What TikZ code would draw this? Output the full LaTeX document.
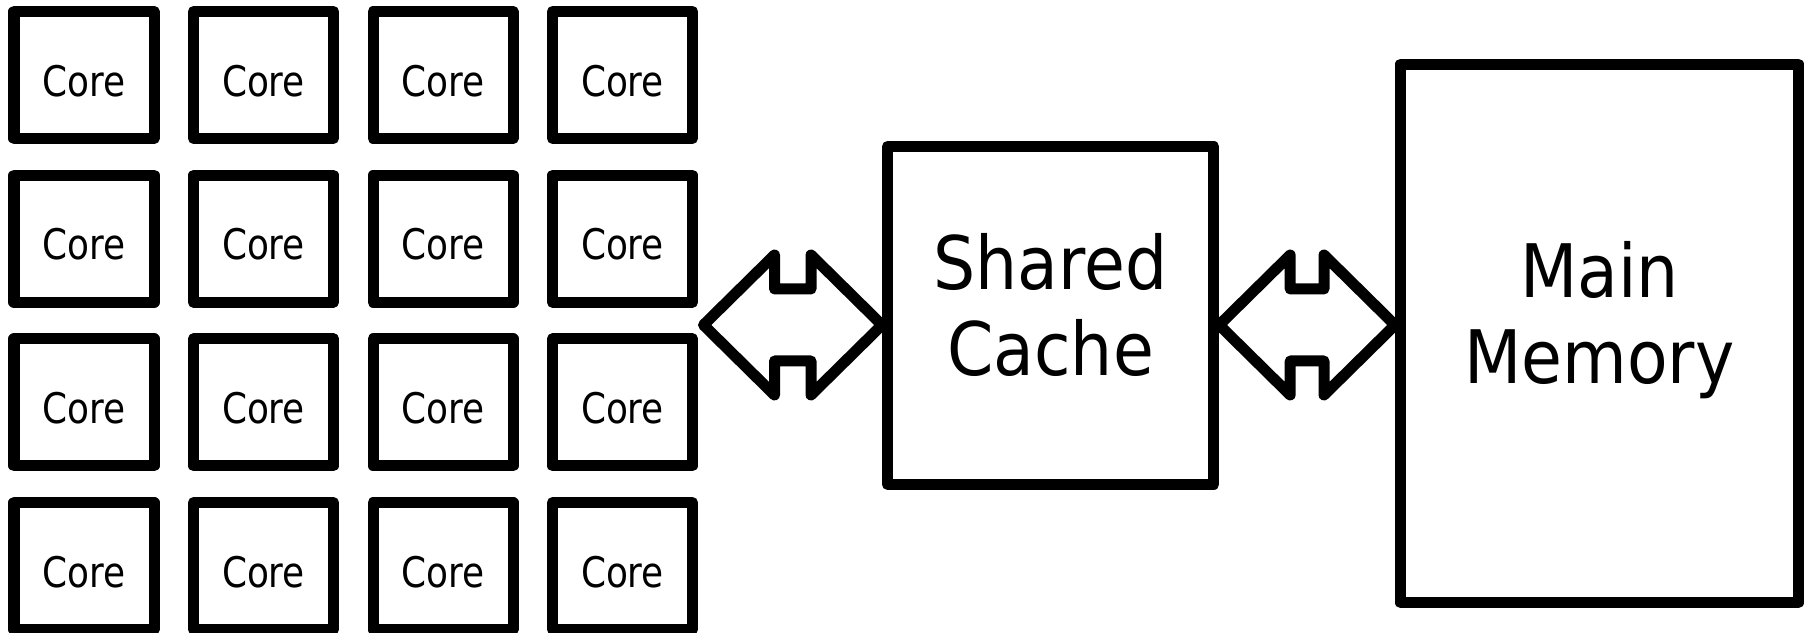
\documentclass[tikz,border=0pt]{standalone}
\usepackage{fontspec}
\setmainfont{DejaVu Sans}[FakeStretch=0.85]
\newfontfamily\blockfont{DejaVu Sans}[FakeStretch=0.9]
\usetikzlibrary{calc}

% fat two-headed bus between two tips on one horizontal line
\newcommand{\busarrow}[2]{%
  \draw[bus] (#1) -- ++(0.71,0.70) -- ++(0,-0.34) -- ($(#2)+(-0.71,0.36)$)
    -- ++(0,0.34) -- (#2) -- ++(-0.71,-0.70) -- ++(0,0.34)
    -- ($(#1)+(0.71,-0.36)$) -- ++(0,-0.34) -- cycle;}

\begin{document}
\begin{tikzpicture}[
  thick line/.style = {draw=black, line width=0.11cm, line join=round},
  core/.style  = {thick line, minimum width=1.40cm, minimum height=1.27cm,
                  inner sep=0pt, font=\fontsize{12}{14}\selectfont,
                  text height=12pt, text depth=0pt},
  block/.style = {thick line, inner sep=0pt, align=center,
                  font=\blockfont\fontsize{21}{24.5}\selectfont, text depth=6.5pt},
  bus/.style   = {thick line, fill=white},
]
\useasboundingbox (0,0) rectangle (18.12,-6.33);

% ---- cores -----------------------------------------------------------------
\node[core] (c11) at (0.840,-0.750) {Core};
\node[core] (c12) at (2.635,-0.750) {Core};
\node[core] (c13) at (4.430,-0.750) {Core};
\node[core] (c14) at (6.225,-0.750) {Core};

\node[core] (c21) at (0.840,-2.387) {Core};
\node[core] (c22) at (2.635,-2.387) {Core};
\node[core] (c23) at (4.430,-2.387) {Core};
\node[core] (c24) at (6.225,-2.387) {Core};

\node[core] (c31) at (0.840,-4.024) {Core};
\node[core] (c32) at (2.635,-4.024) {Core};
\node[core] (c33) at (4.430,-4.024) {Core};
\node[core] (c34) at (6.225,-4.024) {Core};

\node[core] (c41) at (0.840,-5.661) {Core};
\node[core] (c42) at (2.635,-5.661) {Core};
\node[core] (c43) at (4.430,-5.661) {Core};
\node[core] (c44) at (6.225,-5.661) {Core};

% ---- cache and memory ------------------------------------------------------
\node[block, minimum width=3.262cm, minimum height=3.38cm]
  (cache) at (10.506,-3.155) {Shared\\Cache};
\node[block, minimum width=3.98cm, minimum height=5.387cm, text depth=11.7pt]
  (mem) at (15.995,-3.334) {Main\\Memory};

% ---- buses -----------------------------------------------------------------
\coordinate (b1) at (7.035,-3.25);
\coordinate (b2) at (cache.west |- b1);
\coordinate (b3) at (cache.east |- b1);
\coordinate (b4) at (mem.west |- b1);

\busarrow{b1}{b2}
\busarrow{b3}{b4}

\end{tikzpicture}
\end{document}
